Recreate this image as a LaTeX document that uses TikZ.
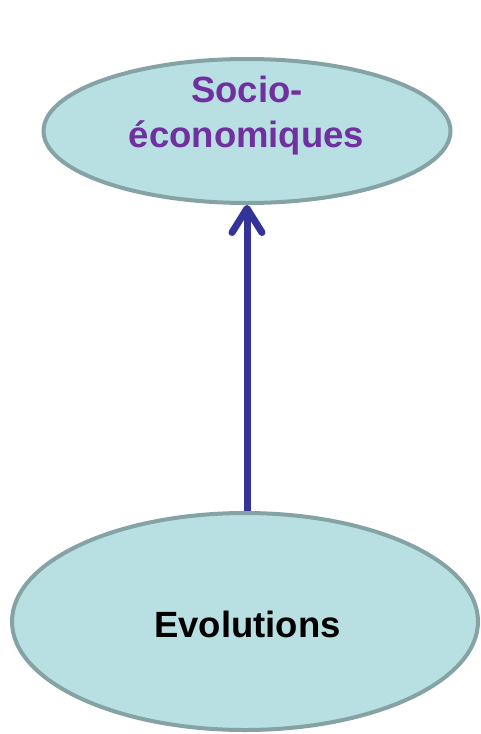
\documentclass[tikz,border=0pt]{standalone}
\usepackage{fontspec}
\setmainfont{Liberation Sans}
\usetikzlibrary{shapes.geometric,arrows.meta}
\definecolor{fillc}{HTML}{B8DFE1}
\definecolor{edgec}{HTML}{85A3A4}
\definecolor{arrc}{HTML}{333399}
\definecolor{purp}{HTML}{7030A0}
\begin{document}
\begin{tikzpicture}[x=1pt,y=-1pt,
  oval/.style={ellipse, draw=edgec, fill=fillc, line width=4pt, inner sep=0pt},
  lbl/.style={font=\fontsize{36.5}{44}\selectfont\bfseries, anchor=base, inner sep=0pt},
  link/.style={draw=arrc, line width=7pt, -{Straight Barb[length=24pt,width=30pt,round]}}]
\useasboundingbox (0,0) rectangle (481,734);
\node[oval, minimum width=407pt, minimum height=144pt] (top) at (247,131) {};
\node[oval, minimum width=466pt, minimum height=217pt] (bot) at (245,621.5) {};
\node[lbl, text=purp] (t1) at (247,102) {Socio-};
\node[lbl, text=purp] (t2) at (246.5,147) {économiques};
\node[lbl, text=black] (t3) at (247.5,637) {Evolutions};
\draw[link] (top.south |- bot.north) -- (top.south);
\end{tikzpicture}
\end{document}
